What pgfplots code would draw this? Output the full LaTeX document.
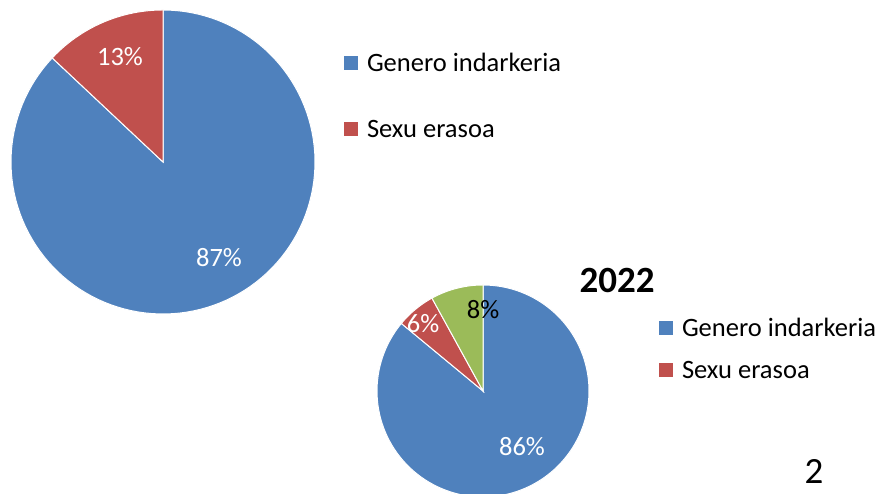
\documentclass[border=0pt]{standalone}
\usepackage{fontspec}
\setmainfont{Carlito}
\usepackage{pgfplots}
\pgfplotsset{compat=1.18}
\definecolor{cblue}{HTML}{4F81BD}
\definecolor{cred}{HTML}{C0504D}
\definecolor{cgreen}{HTML}{9BBB59}
% data (percent)
\def\aGen{87}\def\aSex{13}
\def\bGen{86}\def\bSex{6}\def\bOth{8}
\pgfmathsetmacro\aA{90-3.6*\aGen}
\pgfmathsetmacro\bA{90-3.6*\bGen}
\pgfmathsetmacro\bB{\bA-3.6*\bSex}
\pgfplotsset{piebase/.style={width=879pt,height=494pt,scale only axis,
  xmin=0,xmax=879,ymin=0,ymax=494,hide axis,samples=120,
  legend image code/.code={\fill (0pt,-7.5pt) rectangle (15pt,7.5pt); \path (23pt,0pt);},
  legend cell align=left,
  legend style={draw=none,fill=none,inner sep=0pt,outer sep=0pt,column sep=0pt,
    nodes={inner sep=0pt,anchor=west},font=\fontsize{26.5}{30}\selectfont}},
  wedge/.style={fill=#1,draw=white,line width=1pt}}
\newcommand\lab[1]{\fontsize{26.5}{30}\selectfont #1}
\begin{document}
\begin{tikzpicture}
\begin{axis}[piebase,legend style={at={(axis cs:343,441)},anchor=north west,row sep=46pt}]
\addplot[wedge=cblue,domain=\aA:90] ({163+152*cos(x)},{332+152*sin(x)}) -- (axis cs:163,332) -- cycle;
\addlegendentry{Genero indarkeria\vphantom{k}}
\addplot[wedge=cred,domain=-270:\aA] ({163+152*cos(x)},{332+152*sin(x)}) -- (axis cs:163,332) -- cycle;
\addlegendentry{Sexu erasoa\vphantom{k}}
\node[text=white] at (axis cs:120,437) {\lab{13\%}};
\node[text=white] at (axis cs:219,236) {\lab{87\%}};
\end{axis}
\begin{axis}[piebase,legend style={at={(axis cs:658,176)},anchor=north west,row sep=22pt}]
\addplot[wedge=cblue,domain=\bA:90] ({483+106*cos(x)},{103+106*sin(x)}) -- (axis cs:483,103) -- cycle;
\addlegendentry{Genero indarkeria\vphantom{k}}
\addplot[wedge=cred,domain=\bB:\bA] ({483+106*cos(x)},{103+106*sin(x)}) -- (axis cs:483,103) -- cycle;
\addlegendentry{Sexu erasoa\vphantom{k}}
\addplot[wedge=cgreen,domain=-270:\bB,forget plot] ({483+106*cos(x)},{103+106*sin(x)}) -- (axis cs:483,103) -- cycle;
\node[text=black] at (axis cs:483,184) {\lab{8\%}};
\node[text=white] at (axis cs:423,170) {\lab{6\%}};
\node[text=white] at (axis cs:522,47) {\lab{86\%}};
\node at (axis cs:617,213) {\fontsize{37}{40}\selectfont\bfseries 2022};
\node[inner sep=0pt] at (axis cs:814,22) {\fontsize{37}{40}\selectfont 2};
\end{axis}
\pgfresetboundingbox
\path (0,0) rectangle (879pt,494pt);
\end{tikzpicture}
\end{document}
